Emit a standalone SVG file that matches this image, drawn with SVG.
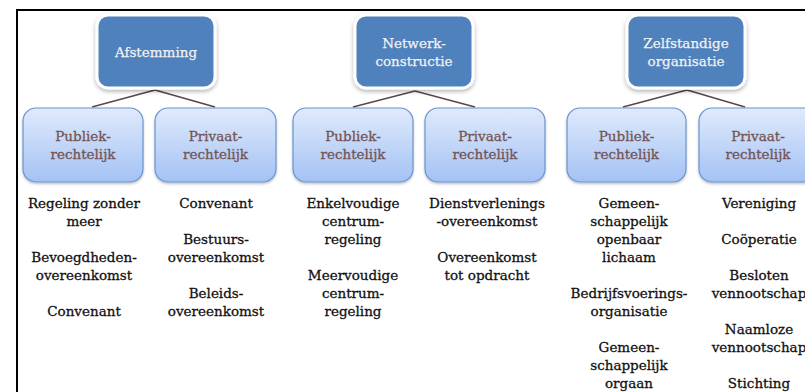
<svg xmlns="http://www.w3.org/2000/svg" width="805" height="392" viewBox="0 0 805 392">
<style>
.top rect{fill:#4f81bd;stroke:#ffffff;stroke-width:3;filter:url(#sh)}
.top text{fill:#f2f2f2;stroke:#f2f2f2;stroke-width:0.25;font-family:"DejaVu Serif","Liberation Serif",serif;font-size:13.5px;text-anchor:middle}
.sub rect{fill:url(#g);stroke:#6a93cf;stroke-width:1.2;filter:url(#sh2)}
.sub text{fill:#745454;stroke:#745454;stroke-width:0.3;font-family:"DejaVu Serif","Liberation Serif",serif;font-size:13.5px;text-anchor:middle}
.lst text{fill:#111111;stroke:#111111;stroke-width:0.3;font-family:"DejaVu Serif","Liberation Serif",serif;font-size:13.5px;text-anchor:middle}
.con line{stroke:#5a4646;stroke-width:1.5}
</style>
<defs>
<linearGradient id="g" x1="0" y1="0" x2="0" y2="1">
<stop offset="0" stop-color="#e0eafc"/>
<stop offset="1" stop-color="#a3c2f4"/>
</linearGradient>
<filter id="sh" x="-20%" y="-20%" width="140%" height="150%">
<feDropShadow dx="0" dy="2" stdDeviation="2" flood-color="#000" flood-opacity="0.3"/>
</filter>
<filter id="sh2" x="-20%" y="-20%" width="140%" height="150%">
<feDropShadow dx="0" dy="1.5" stdDeviation="1.2" flood-color="#000" flood-opacity="0.25"/>
</filter>
</defs>
<rect width="805" height="392" fill="#ffffff"/>
<path d="M17,392 V10 H805" fill="none" stroke="#000" stroke-width="2"/>
<g id="connectors" class="con">
<line x1="155" y1="90" x2="92" y2="107"/>
<line x1="155" y1="90" x2="215" y2="107"/>
<line x1="415" y1="91" x2="353" y2="107"/>
<line x1="415" y1="91" x2="475" y2="107"/>
<line x1="687" y1="90" x2="623" y2="107"/>
<line x1="687" y1="90" x2="745" y2="107"/>
</g>
<g id="afstemming" class="top"><rect x="97" y="15" width="118" height="73" rx="11"/><text x="156" y="57">Afstemming</text></g>
<g id="netwerkconstructie" class="top"><rect x="355" y="15" width="118" height="73" rx="11"/><text x="414" y="48">Netwerk-</text><text x="414" y="66">constructie</text></g>
<g id="zelfstandige" class="top"><rect x="627" y="15" width="118" height="73" rx="11"/><text x="686" y="48">Zelfstandige</text><text x="686" y="66">organisatie</text></g>
<g id="a-publiek" class="sub"><rect x="23" y="108" width="120" height="74" rx="13"/><text x="83" y="141">Publiek-</text><text x="83" y="159">rechtelijk</text></g>
<g id="a-privaat" class="sub"><rect x="155" y="108" width="121" height="74" rx="13"/><text x="215.5" y="141">Privaat-</text><text x="215.5" y="159">rechtelijk</text></g>
<g id="n-publiek" class="sub"><rect x="293" y="108" width="120" height="74" rx="13"/><text x="353" y="141">Publiek-</text><text x="353" y="159">rechtelijk</text></g>
<g id="n-privaat" class="sub"><rect x="425" y="108" width="120" height="74" rx="13"/><text x="485" y="141">Privaat-</text><text x="485" y="159">rechtelijk</text></g>
<g id="z-publiek" class="sub"><rect x="567" y="108" width="119" height="74" rx="13"/><text x="626.5" y="141">Publiek-</text><text x="626.5" y="159">rechtelijk</text></g>
<g id="z-privaat" class="sub"><rect x="699" y="108" width="120" height="74" rx="13"/><text x="758" y="141">Privaat-</text><text x="758" y="159">rechtelijk</text></g>
<g id="lists" class="lst">
<text x="84" y="208">Regeling zonder</text>
<text x="84" y="226">meer</text>
<text x="84" y="262">Bevoegdheden-</text>
<text x="84" y="280">overeenkomst</text>
<text x="84" y="316">Convenant</text>
<text x="216" y="208">Convenant</text>
<text x="216" y="244">Bestuurs-</text>
<text x="216" y="262">overeenkomst</text>
<text x="216" y="298">Beleids-</text>
<text x="216" y="316">overeenkomst</text>
<text x="353" y="208">Enkelvoudige</text>
<text x="353" y="226">centrum-</text>
<text x="353" y="244">regeling</text>
<text x="353" y="280">Meervoudige</text>
<text x="353" y="298">centrum-</text>
<text x="353" y="316">regeling</text>
<text x="487" y="208">Dienstverlenings</text>
<text x="487" y="226">-overeenkomst</text>
<text x="487" y="262">Overeenkomst</text>
<text x="487" y="280">tot opdracht</text>
<text x="629" y="208">Gemeen-</text>
<text x="629" y="226">schappelijk</text>
<text x="629" y="244">openbaar</text>
<text x="629" y="262">lichaam</text>
<text x="629" y="298">Bedrijfsvoerings-</text>
<text x="629" y="316">organisatie</text>
<text x="629" y="352">Gemeen-</text>
<text x="629" y="370">schappelijk</text>
<text x="629" y="388">orgaan</text>
<text x="759" y="208">Vereniging</text>
<text x="759" y="244">Coöperatie</text>
<text x="759" y="280">Besloten</text>
<text x="759" y="298">vennootschap</text>
<text x="759" y="334">Naamloze</text>
<text x="759" y="352">vennootschap</text>
<text x="759" y="388">Stichting</text>
</g>
</svg>
